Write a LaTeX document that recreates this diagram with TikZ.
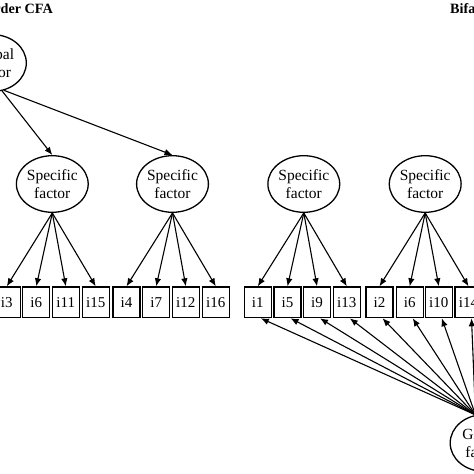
\documentclass[tikz,border=0pt]{standalone}
\usepackage{fontspec}
\setmainfont{Liberation Serif}
\usetikzlibrary{arrows.meta,shapes.geometric}
\tikzset{
  latent/.style={draw, line width=1.3pt, ellipse, minimum width=66.6pt, minimum height=56.6pt, inner sep=0pt, align=center, font=\fontsize{15.5}{17.5}\selectfont},
  item/.style={draw, line width=1.3pt, rectangle, minimum width=27pt, minimum height=30.7pt, inner sep=0pt, font=\fontsize{15}{17}\selectfont},
  load/.style={line width=1.1pt, -{Latex[length=8pt,width=6.5pt]}},
  ttl/.style={font=\fontsize{14.2}{16}\selectfont\bfseries, inner sep=0pt}
}
\begin{document}
\begin{tikzpicture}[x=1pt,y=1pt]
\useasboundingbox (0,0) rectangle (474,474);
\clip (0,0) rectangle (474,474);
% titles
\node[ttl, anchor=base east] (t1) at (53,460.5) {Second-order CFA};
\node[ttl, anchor=base west] (t2) at (450,460.5) {Bifactor CFA};
% left model
\node[latent] (G1) at (-7,411) {Global\\factor};
\node[latent] (S1) at (52.3,290) {Specific\\factor};
\node[latent] (S2) at (172.5,290) {Specific\\factor};
\foreach \n/\x in {i3/6.8, i6/36.3, i11/65.8, i15/95.7, i4/126.5, i7/156.2, i12/185.8, i16/215.8}
  \node[item] (L\n) at (\x,171.7) {\n};
\draw[load] (G1.-72) -- (S1.north);
\draw[load] (G1.-68) -- (S2.north);
\foreach \n in {i3,i6,i11,i15} \draw[load] (S1.south) -- (L\n.north);
\foreach \n in {i4,i7,i12,i16} \draw[load] (S2.south) -- (L\n.north);
% right model
\node[latent] (S3) at (303.8,290) {Specific\\factor};
\node[latent] (S4) at (425.2,290) {Specific\\factor};
\node[latent] (G2) at (483.5,31) {Global\\factor};
\foreach \n/\x in {i1/257.8, i5/287.5, i9/317, i13/346.8, i2/379.5, i6/409.7, i10/438.8, i14/468.5}
  \node[item] (R\n) at (\x,171.7) {\n};
\foreach \n in {i1,i5,i9,i13} \draw[load] (S3.south) -- (R\n.north);
\foreach \n in {i2,i6,i10,i14} \draw[load] (S4.south) -- (R\n.north);
\coordinate (gt) at (G2.106);
\foreach \n in {i1,i5,i9,i13,i2,i6,i10,i14} \draw[load] (gt) -- ([xshift=3pt]R\n.south);
\end{tikzpicture}
\end{document}
